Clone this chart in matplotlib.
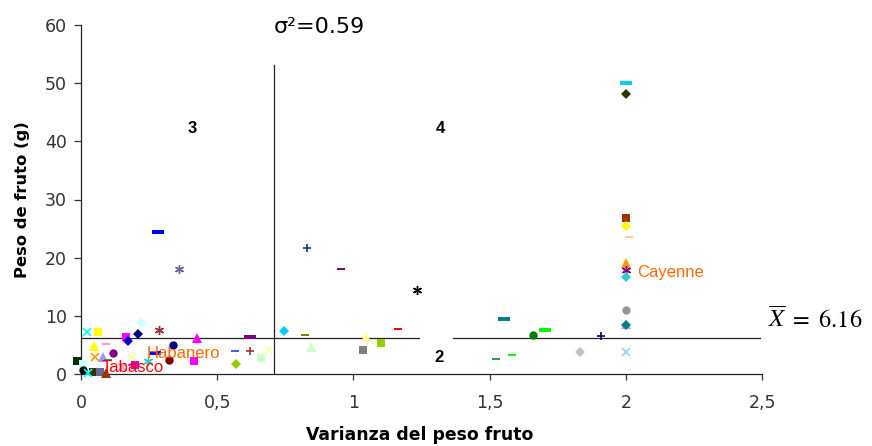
import matplotlib
matplotlib.use("Agg")
import matplotlib.pyplot as plt
from matplotlib.path import Path

plt.rcParams['font.family'] = ['DejaVu Sans']
plt.rcParams['mathtext.fontset'] = 'stix'

# ---- data ----
varianza = [2.00, 2.00, 2.00, 2.00, 2.01, 2.00, 2.00, 2.00, 2.00, 2.00, 2.00, 2.00,
            1.553, 1.703, 1.661, 1.91, 1.832, 1.523, 1.581,
            0.829, 0.955, 1.233, 0.747, 0.824, 0.844, 1.046, 1.034, 1.101, 1.162,
            0.283, 0.360, 0.220, 0.210, 0.287, 0.427, 0.619, 0.021, 0.061, 0.167,
            0.171, 0.049, 0.090, 0.116, 0.336, 0.271, 0.324, 0.414, 0.567, 0.619,
            0.570, 0.662, 0.689, 0.246, -0.016, 0.082, 0.100, 0.051, 0.009, 0.009,
            0.045, 0.070, 0.090, 0.186, 0.200, 0.027, 0.186, 0.150]
peso = [50.0, 48.2, 26.8, 25.4, 23.5, 19.0, 17.9, 16.6, 11.0, 8.6, 8.4, 3.8,
        9.4, 7.6, 6.7, 6.5, 3.8, 2.5, 3.3,
        21.6, 18.1, 14.5, 7.4, 6.7, 4.7, 6.4, 4.1, 5.4, 7.7,
        24.4, 18.0, 8.8, 6.9, 7.5, 6.2, 6.3, 7.2, 7.3, 6.3,
        5.6, 4.8, 5.2, 3.6, 4.9, 3.6, 2.4, 2.3, 4.0, 4.0,
        1.7, 2.8, 4.2, 2.2, 2.2, 3.0, 2.4, 3.0, 1.7, 0.7,
        0.4, 0.4, 0.1, 1.5, 1.5, 0.2, 3.0, 1.2]

media_peso = 6.16
linea_varianza = 0.71
x_ticks = [0, 0.5, 1, 1.5, 2, 2.5]
x_ticklabels = ['0', '0,5', '1', '1,5', '2', '2,5']
y_ticks = [0, 10, 20, 30, 40, 50, 60]

# ---- styles ----
dash = Path([(-1, -0.33), (1, -0.33), (1, 0.33), (-1, 0.33), (-1, -0.33)])
star = (6, 2, 0)
markers = ['dash', 'D', 's', 'D', 'sdash', '^', star, 'D', 'o', '^', 'D', 'x',
           'dash', 'dash', 'o', '+', 'D', 'sdash', 'sdash',
           '+', 'sdash', star, 'D', 'sdash', '^', '^', 's', 's', 'sdash',
           'dash', star, 'D', 'D', star, '^', 'dash', 'x', 's', 's',
           'D', '^', 'sdash', 'o', 'o', 'dash', 'o', 's', 'sdash', '+',
           'D', 's', 'x', star, 's', '^', 'sdash', 'x', 's', 'o',
           's', 's', '^', '+', 's', 'x', 'x', 'x']
colors = ['#00CCFF', '#333300', '#993300', '#FFFF00', '#FFCC99', '#FF9900', '#800080',
          '#33CCCC', '#969696', '#CC99FF', '#008080', '#99CCFF',
          '#008080', '#00FF00', '#008000', '#000080', '#C0C0C0', '#339966', '#00FF00',
          '#1F3A6E', '#800080', '#000000', '#00CCFF', '#808000', '#CCFFCC', '#FFFF99',
          '#808080', '#99CC00', '#FF0000',
          '#0000FF', '#666699', '#CCFFFF', '#000080', '#993333', '#FF00FF', '#800080',
          '#00FFFF', '#FFFF00', '#FF00FF',
          '#0000CC', '#FFFF00', '#FF99CC', '#800080', '#000080', '#0000FF', '#800000',
          '#FF00FF', '#3366FF', '#993333',
          '#99CC00', '#CCFFCC', '#FFFF99', '#33CCCC', '#003300', '#9999FF', '#339966',
          '#FF9900', '#CCFFFF', '#000000',
          '#333300', '#666699', '#993300', '#FF00FF', '#CC00CC', '#00FFFF', '#FFFF99',
          '#FF99CC']

sizes = {'D': 4.8, 's': 6.0, '^': 6.5, 'o': 6.0, '+': 6.0, 'x': 5.5,
         'dash': 8.0, 'sdash': 6.0}

fig = plt.figure(figsize=(8.72, 4.46), dpi=100)
ax = fig.add_axes([81/872, 72/446, 681/872, 349/446])

for x, y, m, c in zip(varianza, peso, markers, colors):
    if isinstance(m, tuple):
        ax.plot(x, y, marker=m, ms=6.5, mec=c, mew=1.0, ls='none', clip_on=False, zorder=3)
    elif m in ('dash', 'sdash'):
        ax.plot(x, y, marker=dash, ms=sizes[m], color=c, mec=c, mew=0, ls='none',
                clip_on=False, zorder=3)
    elif m in ('+', 'x'):
        ax.plot(x, y, marker=m, ms=sizes[m], mec=c, mew=1.2, ls='none', clip_on=False, zorder=3)
    else:
        ax.plot(x, y, marker=m, ms=sizes[m], color=c, mec=c, mew=0, ls='none',
                clip_on=False, zorder=3)

# reference lines
ax.plot([0, 1.242], [media_peso, media_peso], color='#222222', lw=0.9, zorder=2)
ax.plot([1.366, 2.494], [media_peso, media_peso], color='#222222', lw=0.9, zorder=2)
ax.plot([linea_varianza, linea_varianza], [0, 53.2], color='#222222', lw=0.9, zorder=2)

ax.set_xlim(0, 2.5)
ax.set_ylim(0, 60)
ax.set_xticks(x_ticks)
ax.set_xticklabels(x_ticklabels)
ax.set_yticks(y_ticks)
for s in ('top', 'right'):
    ax.spines[s].set_visible(False)
for s in ('left', 'bottom'):
    ax.spines[s].set_linewidth(0.9)
    ax.spines[s].set_color('#222222')
ax.tick_params(axis='x', direction='out', length=4.5, width=0.9, pad=10,
               labelsize=12.5, colors='#333333')
ax.tick_params(axis='y', direction='out', length=5, width=0.9, pad=5,
               labelsize=12.5, colors='#333333')

fig.text(420/872, 1 - 435/446, 'Varianza del peso fruto', ha='center', va='center',
         fontsize=12.4, fontweight='bold')
fig.text(22/872, 1 - 200/446, 'Peso de fruto (g)', ha='center', va='center',
         rotation=90, fontsize=11.8, fontweight='bold')

fig.text(319/872, 1 - 27/446, 'σ²=0.59', ha='center', va='center', fontsize=16)
fig.text(768/872, 1 - 320/446, r'$\overline{X}\ =\ 6.16$', ha='left', va='center',
         fontsize=17.5)

ax.text(0.41, 42.2, '3', ha='center', va='center', fontsize=12, fontweight='bold',
        family='Liberation Sans')
ax.text(1.319, 42.2, '4', ha='center', va='center', fontsize=12, fontweight='bold',
        family='Liberation Sans')
ax.text(1.315, 2.9, '2', ha='center', va='center', fontsize=12, fontweight='bold',
        family='Liberation Sans')

ax.text(2.040, 17.4, 'Cayenne', ha='left', va='center', fontsize=12, color='#FF6600',
        zorder=5, family='Liberation Sans')
ax.text(0.242, 3.6, 'Habanero', ha='left', va='center', fontsize=12, color='#FF6600',
        zorder=5, family='Liberation Sans')
ax.text(0.077, 1.2, 'Tabasco', ha='left', va='center', fontsize=12, color='#FF0000',
        zorder=5, family='Liberation Sans')

fig.savefig('out.png', dpi=100)
